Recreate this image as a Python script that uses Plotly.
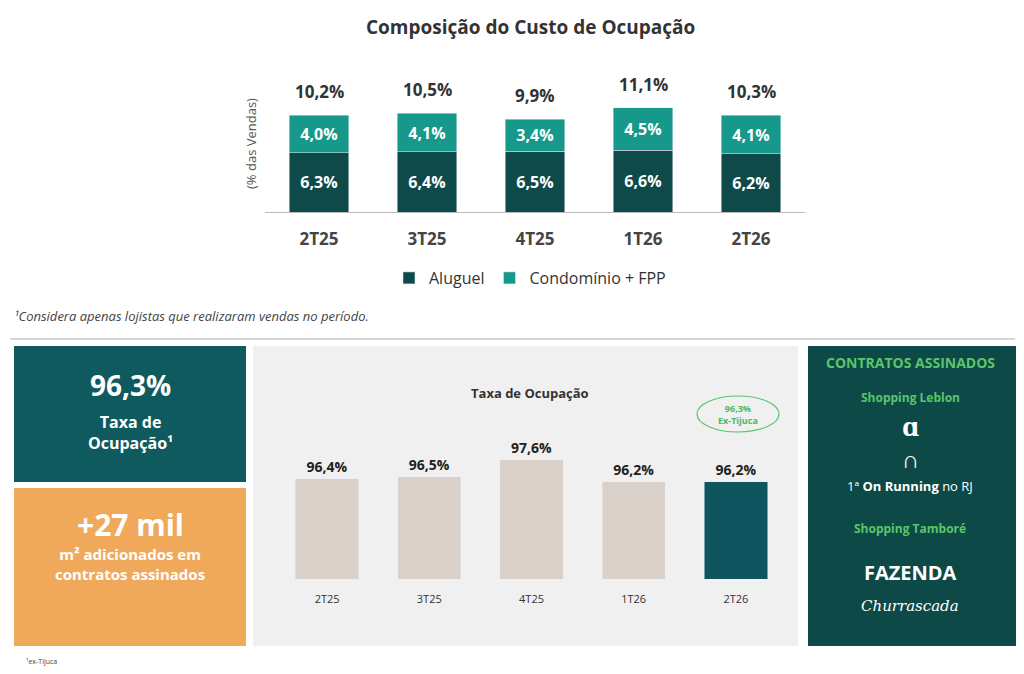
import plotly.graph_objects as go

periodos = ["2T25", "3T25", "4T25", "1T26", "2T26"]
aluguel = [6.3, 6.4, 6.5, 6.6, 6.2]
condominio = [4.0, 4.1, 3.4, 4.5, 4.1]
custo_total = [10.2, 10.5, 9.9, 11.1, 10.3]
taxa_ocupacao = [96.4, 96.5, 97.6, 96.2, 96.2]

W, H = 1024, 674
# the page has an 8px body margin, so shift everything back by 8px
def px(x):
    return (x - 8) / W
def py(y):
    return 1 - (y - 8) / H

FONT = "Open Sans"
DARK = "#0f4a4a"
TEAL = "#16998a"

def pct(v):
    return f"<b>{v:.1f}%</b>".replace(".", ",")

fig = go.Figure()

fig.add_trace(go.Bar(x=periodos, y=aluguel, name="Aluguel", marker_color=DARK, width=0.55,
                     text=[pct(v) for v in aluguel], textposition="inside",
                     insidetextanchor="middle", textfont=dict(color="white", size=16, family=FONT),
                     xaxis="x", yaxis="y"))
fig.add_trace(go.Bar(x=periodos, y=condominio, name="Condomínio + FPP", marker_color=TEAL, width=0.55,
                     text=[pct(v) for v in condominio], textposition="inside",
                     insidetextanchor="middle", textfont=dict(color="white", size=16, family=FONT),
                     xaxis="x", yaxis="y"))

cores = ["#d9d1c9"] * 4 + ["#0e5560"]
fig.add_trace(go.Bar(x=periodos, y=taxa_ocupacao, marker_color=cores, width=0.62, showlegend=False,
                     text=[pct(v) for v in taxa_ocupacao], textposition="outside",
                     textfont=dict(size=14, color="#222222", family=FONT), cliponaxis=False,
                     xaxis="x2", yaxis="y2"))

shapes = [
    dict(type="line", xref="paper", yref="paper", x0=px(10), x1=px(1015), y0=py(339), y1=py(339),
         line=dict(color="#c8c8c8", width=1.5)),
    dict(type="rect", xref="paper", yref="paper", x0=px(14), x1=px(246), y0=py(482), y1=py(346),
         fillcolor="#0e5a5e", line_width=0, layer="below"),
    dict(type="rect", xref="paper", yref="paper", x0=px(14), x1=px(246), y0=py(646), y1=py(488),
         fillcolor="#f0a95a", line_width=0, layer="below"),
    dict(type="rect", xref="paper", yref="paper", x0=px(253), x1=px(798), y0=py(646), y1=py(346),
         fillcolor="#f0f0f0", line_width=0, layer="below"),
    dict(type="rect", xref="paper", yref="paper", x0=px(808), x1=px(1016), y0=py(646), y1=py(346),
         fillcolor="#0d4a47", line_width=0, layer="below"),
    dict(type="circle", xref="paper", yref="paper", x0=px(697), x1=px(779), y0=py(432), y1=py(396),
         line=dict(color="#5cc46a", width=1.2), fillcolor="rgba(0,0,0,0)"),
]

def ann(x, y, text, size, color, bold=False, italic=False, xanchor="center", font=FONT):
    if bold:
        text = f"<b>{text}</b>"
    if italic:
        text = f"<i>{text}</i>"
    return dict(x=px(x), y=py(y), xref="paper", yref="paper", text=text, showarrow=False,
                xanchor=xanchor, yanchor="middle", font=dict(size=size, color=color, family=font))

annotations = [
    ann(530, 27, "Composição do Custo de Ocupação", 19, "#333333", bold=True),
    ann(12, 316, "¹Considera apenas lojistas que realizaram vendas no período.", 13, "#444444",
        italic=True, xanchor="left"),
    ann(130, 385, "96,3%", 28, "white", bold=True),
    ann(130, 432, "Taxa de<br>Ocupação¹", 16, "white", bold=True),
    ann(130, 524, "+27 mil", 30, "white", bold=True),
    ann(130, 564, "m² adicionados em<br>contratos assinados", 15, "white", bold=True),
    ann(530, 393, "Taxa de Ocupação", 13, "#333333", bold=True),
    ann(738, 414, "96,3%<br>Ex-Tijuca", 9, "#4cb85a", bold=True),
    ann(910, 362, "CONTRATOS ASSINADOS", 14, "#5cc46a", bold=True),
    ann(910, 397, "Shopping Leblon", 12, "#5cc46a", bold=True),
    ann(910, 424, "<b>ɑ</b>", 30, "white"),
    ann(910, 458, "<b>∩</b>", 24, "white"),
    ann(910, 486, "1ª <b>On Running</b> no RJ", 13, "white"),
    ann(910, 528, "Shopping Tamboré", 12, "#5cc46a", bold=True),
    ann(910, 572, "FAZENDA", 20, "white", bold=True),
    ann(910, 606, "<i>Churrascada</i>", 15, "white", font="DejaVu Serif"),
    ann(24, 661, "¹ex-Tijuca", 7, "#444444", xanchor="left"),
]

# totals above the stacked bars
for p, a, c, t in zip(periodos, aluguel, condominio, custo_total):
    annotations.append(dict(x=p, y=a + c, xref="x", yref="y", text=pct(t), showarrow=False,
                            yanchor="bottom", yshift=10,
                            font=dict(size=17, color="#333333", family=FONT)))

fig.update_layout(
    width=W, height=H, margin=dict(l=0, r=0, t=0, b=0),
    paper_bgcolor="white", plot_bgcolor="rgba(0,0,0,0)",
    barmode="stack", bargap=0.45,
    font=dict(family=FONT),
    xaxis=dict(domain=[px(265), px(805)], anchor="y", showgrid=False, showline=True,
               linecolor="#bbbbbb", ticks="", tickfont=dict(size=17, color="#444444", family=FONT),
               tickprefix="<b>", ticksuffix="</b>", ticklabelstandoff=12),
    yaxis=dict(domain=[py(212), py(75)], range=[0, 14.6], showgrid=False, showticklabels=False,
               zeroline=False, title=dict(text="(% das Vendas)", font=dict(size=13, color="#555555"),
                                          standoff=4)),
    xaxis2=dict(domain=[px(276), px(787)], anchor="y2", showgrid=False, showline=False, ticks="",
                tickfont=dict(size=11, color="#333333"), ticklabelstandoff=12),
    yaxis2=dict(domain=[py(579), py(400)], range=[90, 101.4], showgrid=False, showticklabels=False,
                zeroline=False),
    legend=dict(orientation="h", x=px(530), xanchor="center", y=py(278), yanchor="middle",
                font=dict(size=16, color="#333333"), itemwidth=30, traceorder="normal"),
    shapes=shapes, annotations=annotations,
)

fig.write_html("out.html")
